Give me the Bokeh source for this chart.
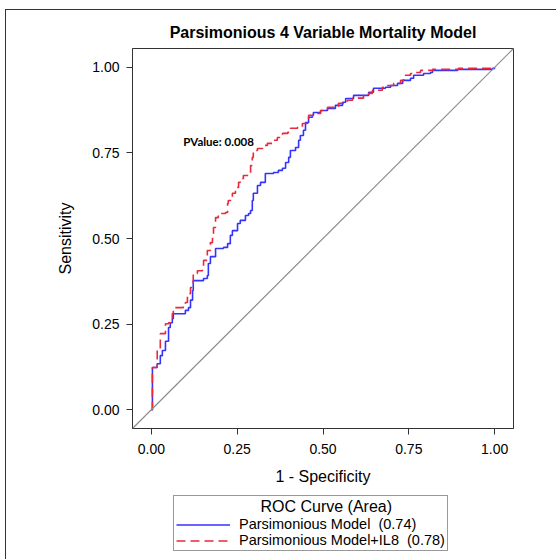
from bokeh.plotting import figure
from bokeh.layouts import column
from bokeh.models import (Range1d, FixedTicker, Legend, LegendItem, Label, Slope,
                          CustomJSTickFormatter)
from bokeh.embed import file_html
from bokeh.resources import INLINE

# ---------------- data ----------------
title = "Parsimonious 4 Variable Mortality Model"
tick_values = [0.0, 0.25, 0.5, 0.75, 1.0]

base_fpr = [0, 0.003, 0.003, 0.012, 0.017, 0.026, 0.032, 0.041, 0.050, 0.055,
            0.061, 0.064, 0.085, 0.099, 0.108, 0.114, 0.120, 0.122, 0.152, 0.163,
            0.166, 0.172, 0.187, 0.210, 0.222, 0.230, 0.236, 0.251, 0.259, 0.274,
            0.283, 0.289, 0.294, 0.297, 0.309, 0.318, 0.332, 0.356, 0.370, 0.382,
            0.391, 0.400, 0.405, 0.420, 0.429, 0.434, 0.443, 0.449, 0.458, 0.469,
            0.472, 0.493, 0.513, 0.536, 0.557, 0.566, 0.589, 0.618, 0.633, 0.647,
            0.682, 0.697, 0.717, 0.732, 0.755, 0.764, 0.793, 0.813, 0.819, 0.892, 0.994, 1.0]
base_tpr = [0, 0.020, 0.123, 0.123, 0.134, 0.158, 0.173, 0.200, 0.240, 0.254,
            0.266, 0.280, 0.280, 0.290, 0.298, 0.320, 0.348, 0.377, 0.383, 0.392,
            0.427, 0.447, 0.471, 0.474, 0.485, 0.509, 0.523, 0.544, 0.553, 0.567,
            0.573, 0.582, 0.611, 0.632, 0.655, 0.664, 0.690, 0.693, 0.699, 0.705,
            0.722, 0.737, 0.757, 0.766, 0.787, 0.801, 0.816, 0.839, 0.854, 0.860,
            0.868, 0.874, 0.880, 0.889, 0.898, 0.909, 0.918, 0.918, 0.927, 0.939,
            0.942, 0.947, 0.953, 0.962, 0.968, 0.977, 0.982, 0.985, 0.991, 0.994, 0.997, 1.0]

il8_fpr = [0, 0.003, 0.017, 0.017, 0.026, 0.026, 0.035, 0.041, 0.050, 0.061,
           0.064, 0.093, 0.099, 0.105, 0.108, 0.114, 0.122, 0.134, 0.149, 0.152,
           0.163, 0.172, 0.178, 0.181, 0.187, 0.195, 0.216, 0.222, 0.224, 0.236,
           0.245, 0.254, 0.259, 0.268, 0.283, 0.289, 0.294, 0.297, 0.309, 0.324,
           0.338, 0.353, 0.367, 0.382, 0.397, 0.405, 0.426, 0.440, 0.455, 0.458,
           0.472, 0.493, 0.513, 0.545, 0.571, 0.586, 0.618, 0.633, 0.644, 0.673,
           0.688, 0.706, 0.726, 0.735, 0.755, 0.764, 0.784, 0.819, 0.895, 1.0]
il8_tpr = [0, 0.123, 0.129, 0.173, 0.193, 0.222, 0.222, 0.251, 0.254, 0.281,
           0.298, 0.304, 0.313, 0.333, 0.339, 0.357, 0.398, 0.406, 0.415, 0.436,
           0.465, 0.488, 0.503, 0.532, 0.561, 0.573, 0.576, 0.602, 0.611, 0.632,
           0.649, 0.664, 0.675, 0.684, 0.690, 0.713, 0.737, 0.757, 0.763, 0.772,
           0.778, 0.787, 0.795, 0.807, 0.810, 0.822, 0.825, 0.836, 0.845, 0.860,
           0.865, 0.874, 0.883, 0.895, 0.904, 0.910, 0.918, 0.924, 0.933, 0.942,
           0.947, 0.953, 0.962, 0.977, 0.982, 0.985, 0.991, 0.994, 0.997, 1.0]

legend_title = "ROC Curve (Area)"
series_labels = ["Parsimonious Model  (0.74)", "Parsimonious Model+IL8  (0.78)"]
pvalue_text = "PValue: 0.008"
pvalue_pos = (0.093, 0.784)

# ---------------- styles ----------------
FONT = "Liberation Sans"
BLUE = "#3333ff"
RED = "#e8283c"
DASH = "9 5"
BOX = ("linear-gradient(#333,#333) 5px 9px / 1px 100% no-repeat, "
       "linear-gradient(#333,#333) 5px 9px / 100% 1px no-repeat, #ffffff")
VLINE = "linear-gradient(#333,#333) 5px 0px / 1px 100% no-repeat, #ffffff"

# ---------------- main figure ----------------
p = figure(width=556, height=492, output_backend="svg", toolbar_location=None,
           x_range=Range1d(-0.055, 1.055), y_range=Range1d(-0.055, 1.055),
           title=title, min_border_left=132, min_border_right=43,
           min_border_top=48, min_border_bottom=64)
p.border_fill_color = None
p.background_fill_color = "#ffffff"
p.styles = {"background": BOX}

p.title.align = "center"
p.title.text_font = FONT
p.title.text_font_size = "16px"
p.title.text_font_style = "bold"
p.title.text_color = "#000000"
p.title.standoff = 15

p.grid.visible = False
p.outline_line_color = "#333333"
p.outline_line_width = 1

for ax in (p.xaxis[0], p.yaxis[0]):
    ax.ticker = FixedTicker(ticks=tick_values)
    ax.formatter = CustomJSTickFormatter(code="return tick.toFixed(2);")
    ax.major_label_text_font = FONT
    ax.major_label_text_font_size = "14px"
    ax.major_label_text_color = "#000000"
    ax.axis_label_text_font = FONT
    ax.axis_label_text_font_size = "16px"
    ax.axis_label_text_font_style = "normal"
    ax.axis_label_text_color = "#000000"
    ax.major_tick_out = 6
    ax.major_tick_in = 0
    ax.minor_tick_out = 0
    ax.minor_tick_in = 0
    ax.axis_line_color = "#333333"
    ax.major_tick_line_color = "#333333"

p.xaxis.axis_label = "1 - Specificity"
p.yaxis.axis_label = "Sensitivity"
p.xaxis.major_label_standoff = 9
p.yaxis.major_label_standoff = 7
p.xaxis.axis_label_standoff = 11
p.yaxis.axis_label_standoff = 15

p.add_layout(Slope(gradient=1, y_intercept=0, line_color="#8c8c8c", line_width=1.2))

p.step(base_fpr, base_tpr, mode="after", line_color=BLUE, line_width=1.6)
p.step(il8_fpr, il8_tpr, mode="after", line_color=RED, line_width=1.6, line_dash=DASH)

p.add_layout(Label(x=pvalue_pos[0], y=pvalue_pos[1], text=pvalue_text,
                   text_font="Lato", text_font_size="11.5px", text_font_style="bold",
                   text_baseline="middle", text_color="#000000"))

# ---------------- legend strip (frame aligned with the main frame) ----------------
# its ranges keep the legend-handle copies of the curves out of view
lg = figure(width=556, height=67, output_backend="svg", toolbar_location=None,
            x_range=Range1d(2, 3), y_range=Range1d(2, 3),
            x_axis_location=None, y_axis_location=None,
            min_border_left=0, min_border_right=0, min_border_top=0, min_border_bottom=0)
lg.border_fill_color = None
lg.background_fill_color = None
lg.outline_line_color = None
lg.grid.visible = False
lg.styles = {"background": VLINE}
k_base = lg.step(base_fpr, base_tpr, mode="after", line_color=BLUE, line_width=1.6)
k_il8 = lg.step(il8_fpr, il8_tpr, mode="after", line_color=RED, line_width=1.6,
                line_dash=DASH)

legend = Legend(items=[LegendItem(label=series_labels[0], renderers=[k_base]),
                       LegendItem(label=series_labels[1], renderers=[k_il8])],
                title="\u00a0" * 19 + legend_title, location=(41, 8),
                orientation="vertical",
                glyph_width=54, glyph_height=15, label_standoff=9,
                padding=2, spacing=0, margin=0,
                border_line_color="#333333", border_line_width=1,
                background_fill_color="#ffffff",
                label_text_font=FONT, label_text_font_size="14.5px",
                label_text_color="#000000", label_height=16,
                title_text_font=FONT, title_text_font_size="16px",
                title_text_font_style="normal", title_text_color="#000000",
                title_standoff=0)
lg.add_layout(legend)

open("out.html", "w").write(file_html(column(p, lg, spacing=0), INLINE))
